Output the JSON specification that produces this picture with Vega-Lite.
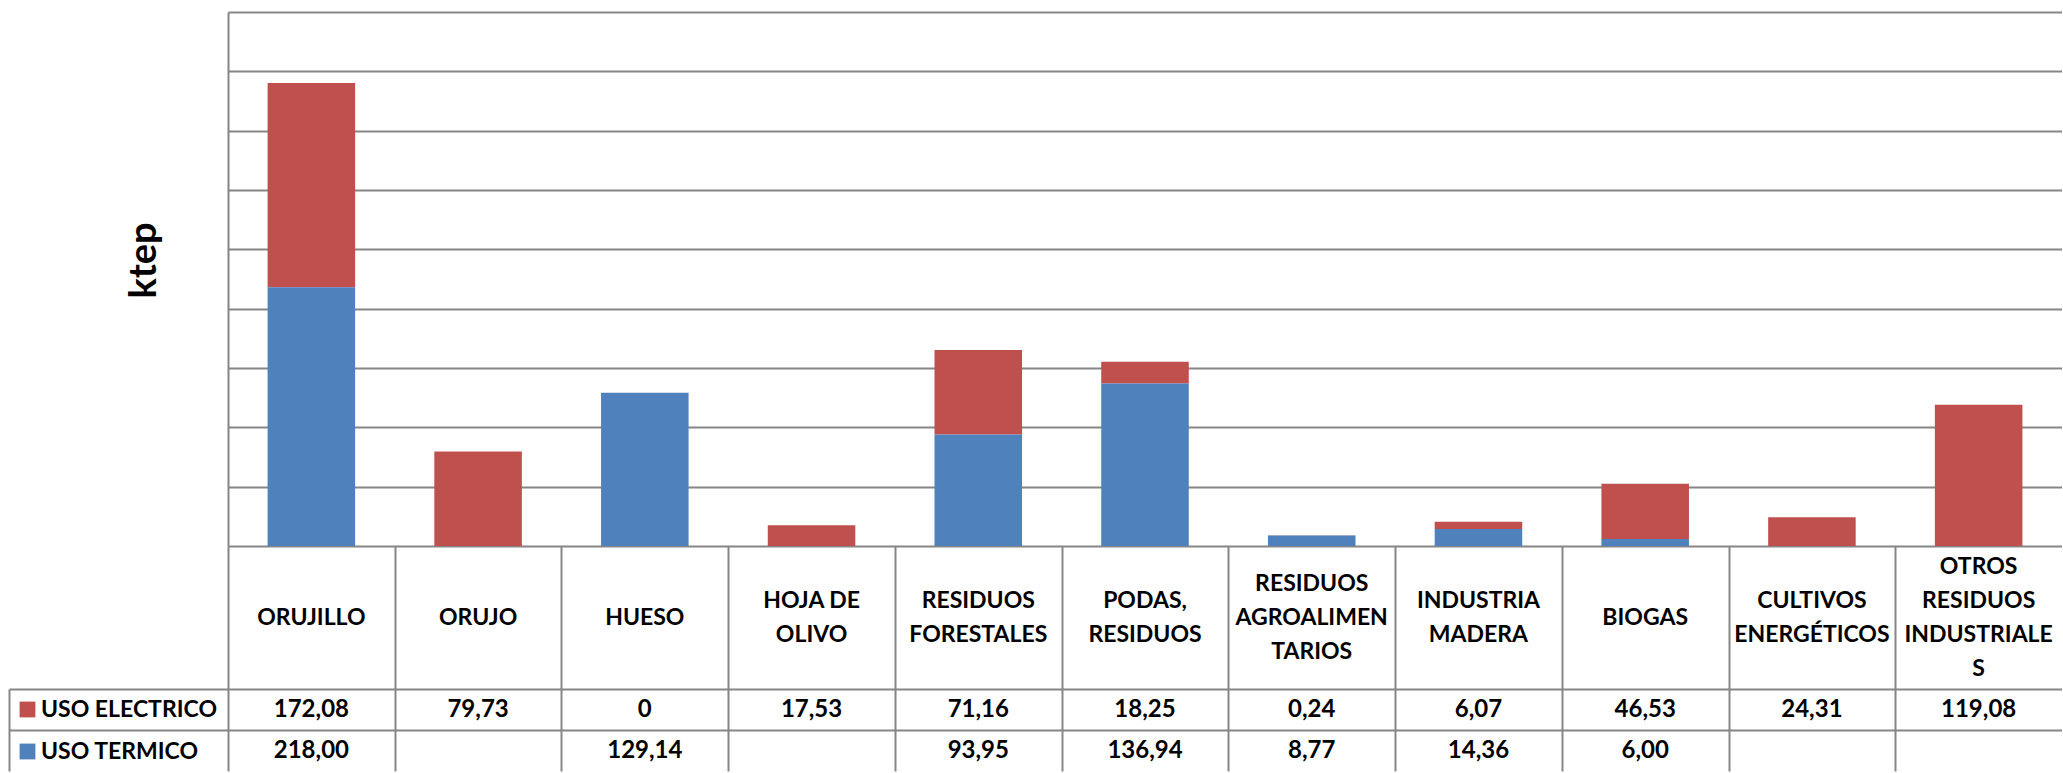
{
  "$schema": "https://vega.github.io/schema/vega-lite/v6.json",
  "padding": {"left": 8, "top": 12, "right": 0, "bottom": 0},
  "spacing": 0,
  "bounds": "flush",
  "config": {
    "font": "Lato",
    "view": {"stroke": null},
    "locale": {"number": {"decimal": ",", "thousands": ".", "grouping": [3], "currency": ["", " €"]}}
  },
  "datasets": {
    "vals": [
      {"cat": "ORUJILLO", "serie": "USO ELECTRICO", "value": 172.08},
      {"cat": "ORUJILLO", "serie": "USO TERMICO", "value": 218.00},
      {"cat": "ORUJO", "serie": "USO ELECTRICO", "value": 79.73},
      {"cat": "HUESO", "serie": "USO ELECTRICO", "value": 0},
      {"cat": "HUESO", "serie": "USO TERMICO", "value": 129.14},
      {"cat": "HOJA DE OLIVO", "serie": "USO ELECTRICO", "value": 17.53},
      {"cat": "RESIDUOS FORESTALES", "serie": "USO ELECTRICO", "value": 71.16},
      {"cat": "RESIDUOS FORESTALES", "serie": "USO TERMICO", "value": 93.95},
      {"cat": "PODAS, RESIDUOS", "serie": "USO ELECTRICO", "value": 18.25},
      {"cat": "PODAS, RESIDUOS", "serie": "USO TERMICO", "value": 136.94},
      {"cat": "RESIDUOS AGROALIMENTARIOS", "serie": "USO ELECTRICO", "value": 0.24},
      {"cat": "RESIDUOS AGROALIMENTARIOS", "serie": "USO TERMICO", "value": 8.77},
      {"cat": "INDUSTRIA MADERA", "serie": "USO ELECTRICO", "value": 6.07},
      {"cat": "INDUSTRIA MADERA", "serie": "USO TERMICO", "value": 14.36},
      {"cat": "BIOGAS", "serie": "USO ELECTRICO", "value": 46.53},
      {"cat": "BIOGAS", "serie": "USO TERMICO", "value": 6.00},
      {"cat": "CULTIVOS ENERGÉTICOS", "serie": "USO ELECTRICO", "value": 24.31},
      {"cat": "OTROS RESIDUOS INDUSTRIALES", "serie": "USO ELECTRICO", "value": 119.08}
    ],
    "cats": [
      {"cat": "ORUJILLO", "label": "ORUJILLO"},
      {"cat": "ORUJO", "label": "ORUJO"},
      {"cat": "HUESO", "label": "HUESO"},
      {"cat": "HOJA DE OLIVO", "label": "HOJA DE\nOLIVO"},
      {"cat": "RESIDUOS FORESTALES", "label": "RESIDUOS\nFORESTALES"},
      {"cat": "PODAS, RESIDUOS", "label": "PODAS,\nRESIDUOS"},
      {"cat": "RESIDUOS AGROALIMENTARIOS", "label": "RESIDUOS\nAGROALIMEN\nTARIOS"},
      {"cat": "INDUSTRIA MADERA", "label": "INDUSTRIA\nMADERA"},
      {"cat": "BIOGAS", "label": "BIOGAS"},
      {"cat": "CULTIVOS ENERGÉTICOS", "label": "CULTIVOS\nENERGÉTICOS"},
      {"cat": "OTROS RESIDUOS INDUSTRIALES", "label": "OTROS\nRESIDUOS\nINDUSTRIALE\nS"}
    ]
  },
  "vconcat": [
    {
      "width": 1834,
      "height": 534,
      "data": {"name": "vals"},
      "mark": {"type": "bar"},
      "encoding": {
        "x": {"field": "cat", "type": "nominal",
              "scale": {"domain": ["ORUJILLO", "ORUJO", "HUESO", "HOJA DE OLIVO", "RESIDUOS FORESTALES", "PODAS, RESIDUOS", "RESIDUOS AGROALIMENTARIOS", "INDUSTRIA MADERA", "BIOGAS", "CULTIVOS ENERGÉTICOS", "OTROS RESIDUOS INDUSTRIALES"],
                        "paddingInner": 0.475, "paddingOuter": 0.2375},
              "axis": null},
        "y": {"field": "value", "type": "quantitative", "stack": "zero",
              "scale": {"domain": [0, 450], "nice": false},
              "axis": {"values": [0, 50, 100, 150, 200, 250, 300, 350, 400, 450],
                       "grid": true, "gridColor": "#868686", "gridWidth": 2,
                       "labels": false, "ticks": false,
                       "domain": true, "domainColor": "#868686", "domainWidth": 2,
                       "title": "ktep", "titleFont": "Lato", "titleFontSize": 38,
                       "titleFontWeight": "bold", "titleColor": "black",
                       "titlePadding": 65, "titleY": 248}},
        "color": {"field": "serie", "type": "nominal",
                  "scale": {"domain": ["USO ELECTRICO", "USO TERMICO"], "range": ["#C0504D", "#4F81BD"]},
                  "legend": {"orient": "none", "legendX": -212, "legendY": 686, "title": null,
                             "symbolType": "square", "symbolSize": 250, "symbolStrokeWidth": 0,
                             "labelFont": "Lato", "labelFontSize": 23, "labelFontWeight": "bold",
                             "labelColor": "black", "labelLimit": 0, "rowPadding": 18, "labelOffset": 2, "padding": 0}},
        "order": {"field": "serie", "sort": "descending"}
      }
    },
    {
      "width": 1834,
      "height": 143,
      "data": {"name": "cats"},
      "encoding": {
        "x": {"field": "cat", "type": "nominal",
              "scale": {"domain": ["ORUJILLO", "ORUJO", "HUESO", "HOJA DE OLIVO", "RESIDUOS FORESTALES", "PODAS, RESIDUOS", "RESIDUOS AGROALIMENTARIOS", "INDUSTRIA MADERA", "BIOGAS", "CULTIVOS ENERGÉTICOS", "OTROS RESIDUOS INDUSTRIALES"],
                        "paddingInner": 0, "paddingOuter": 0},
              "axis": {"orient": "top", "grid": true, "tickBand": "extent",
                       "gridColor": {"condition": {"test": "datum.value === 'OTROS RESIDUOS INDUSTRIALES'", "value": "transparent"}, "value": "#868686"},
                       "gridWidth": 2, "labels": false, "ticks": false, "domain": false, "title": null}},
        "text": {"field": "label", "type": "nominal"}
      },
      "layer": [
        {
          "transform": [{"filter": {"field": "cat", "oneOf": ["ORUJILLO", "ORUJO", "HUESO", "BIOGAS"]}}],
          "mark": {"type": "text", "font": "Lato", "fontSize": 23, "fontWeight": "bold", "color": "black",
                   "lineBreak": "\n", "lineHeight": 34, "baseline": "middle", "align": "center", "dy": 0}
        },
        {
          "transform": [{"filter": {"field": "cat", "oneOf": ["HOJA DE OLIVO", "RESIDUOS FORESTALES", "PODAS, RESIDUOS", "INDUSTRIA MADERA", "CULTIVOS ENERGÉTICOS"]}}],
          "mark": {"type": "text", "font": "Lato", "fontSize": 23, "fontWeight": "bold", "color": "black",
                   "lineBreak": "\n", "lineHeight": 34, "baseline": "middle", "align": "center", "dy": -17}
        },
        {
          "transform": [{"filter": {"field": "cat", "oneOf": ["RESIDUOS AGROALIMENTARIOS"]}}],
          "mark": {"type": "text", "font": "Lato", "fontSize": 23, "fontWeight": "bold", "color": "black",
                   "lineBreak": "\n", "lineHeight": 34, "baseline": "middle", "align": "center", "dy": -34}
        },
        {
          "transform": [{"filter": {"field": "cat", "oneOf": ["OTROS RESIDUOS INDUSTRIALES"]}}],
          "mark": {"type": "text", "font": "Lato", "fontSize": 23, "fontWeight": "bold", "color": "black",
                   "lineBreak": "\n", "lineHeight": 34, "baseline": "middle", "align": "center", "dy": -51}
        }
      ]
    },
    {
      "width": 1834,
      "height": 82,
      "data": {"name": "vals"},
      "mark": {"type": "text", "font": "Lato", "fontSize": 24, "fontWeight": "bold", "color": "black",
               "baseline": "middle", "align": "center"},
      "encoding": {
        "x": {"field": "cat", "type": "nominal",
              "scale": {"domain": ["ORUJILLO", "ORUJO", "HUESO", "HOJA DE OLIVO", "RESIDUOS FORESTALES", "PODAS, RESIDUOS", "RESIDUOS AGROALIMENTARIOS", "INDUSTRIA MADERA", "BIOGAS", "CULTIVOS ENERGÉTICOS", "OTROS RESIDUOS INDUSTRIALES"],
                        "paddingInner": 0, "paddingOuter": 0},
              "axis": {"orient": "top", "grid": true, "tickBand": "extent",
                       "gridColor": {"condition": {"test": "datum.value === 'OTROS RESIDUOS INDUSTRIALES'", "value": "transparent"}, "value": "#868686"},
                       "gridWidth": 2, "labels": false, "ticks": false, "domain": false, "title": null}},
        "y": {"field": "serie", "type": "nominal",
              "scale": {"domain": ["USO ELECTRICO", "USO TERMICO"], "paddingInner": 0, "paddingOuter": 0},
              "axis": {"orient": "left", "offset": 219, "grid": true, "tickBand": "extent",
                       "gridColor": {"condition": {"test": "datum.value === 'USO TERMICO'", "value": "transparent"}, "value": "#868686"},
                       "gridWidth": 2, "labels": false, "ticks": true, "tickSize": -219,
                       "tickColor": {"condition": {"test": "datum.value === 'USO TERMICO'", "value": "transparent"}, "value": "#868686"},
                       "tickWidth": 2,
                       "domain": true, "domainColor": "#868686", "domainWidth": 2, "title": null}},
        "text": {"condition": {"test": "datum.value === 0", "value": "0"},
                 "field": "value", "type": "quantitative", "format": ".2f"}
      }
    }
  ]
}
